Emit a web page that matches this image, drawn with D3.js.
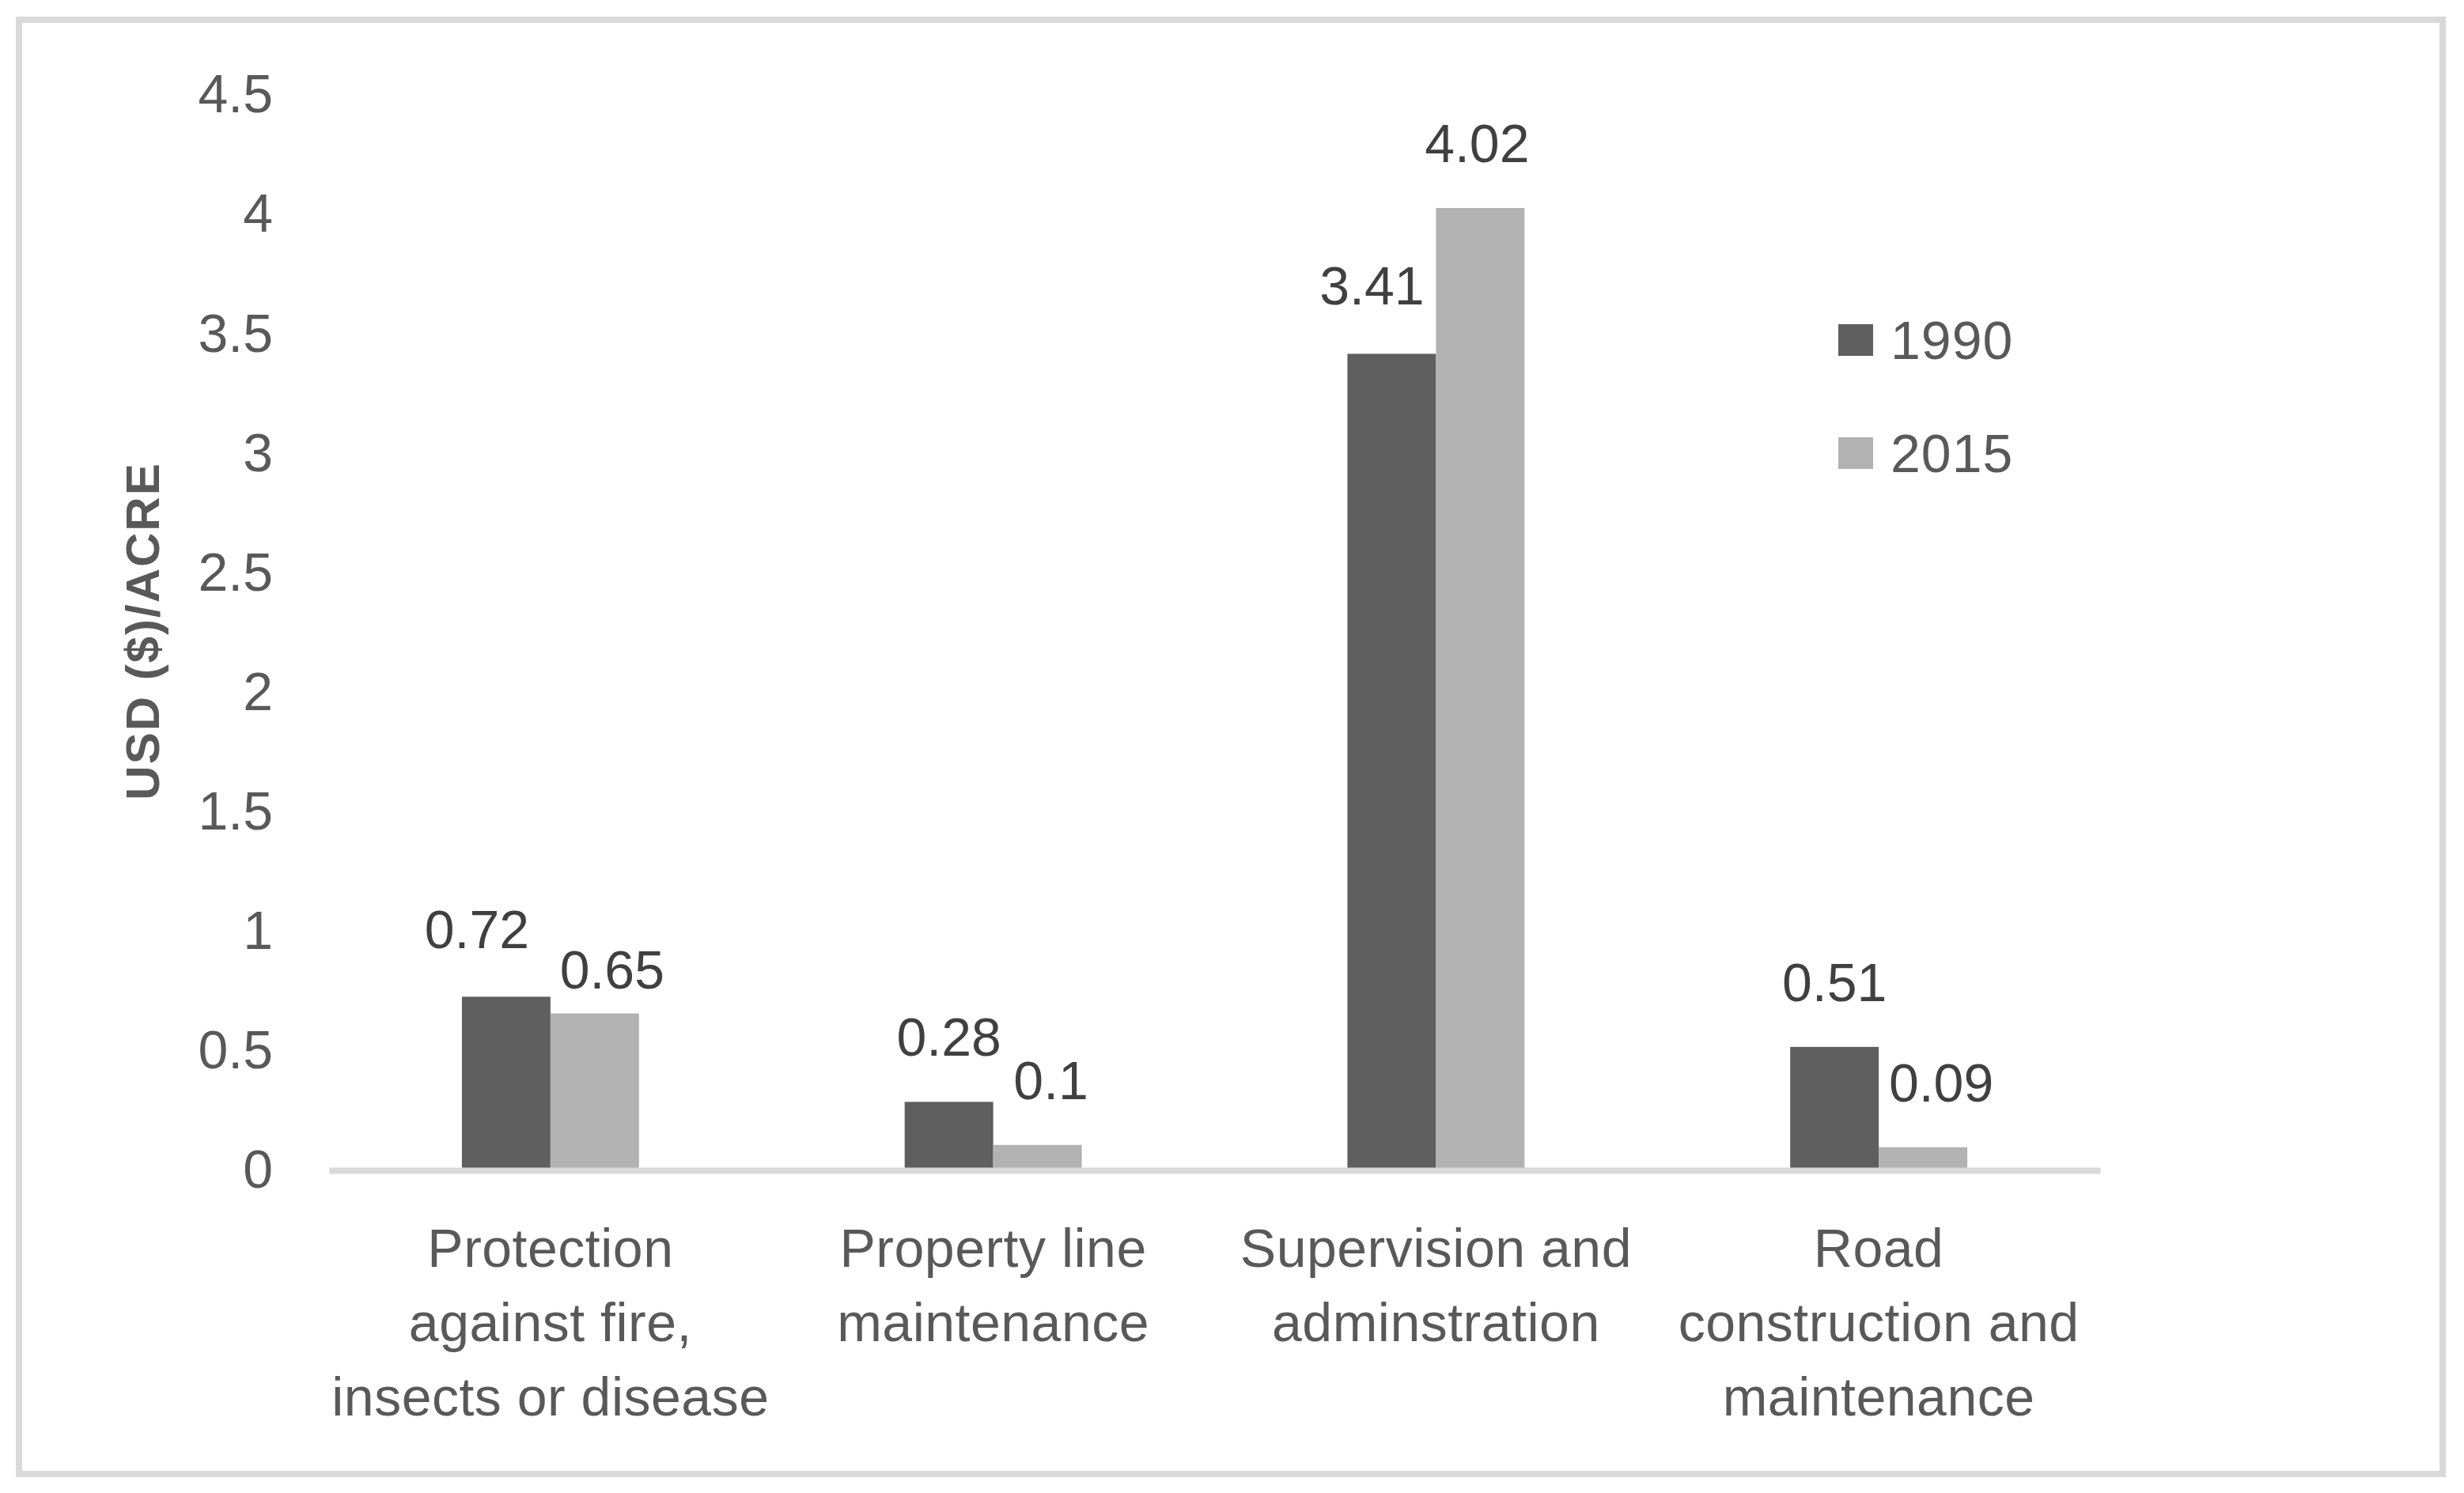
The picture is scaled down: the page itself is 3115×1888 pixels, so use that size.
<!DOCTYPE html>
<html>
<head>
<meta charset="utf-8">
<script src="https://cdn.jsdelivr.net/npm/d3@7"></script>
<style>
  body { margin: 0; background: #fff; }
  text { font-family: "Liberation Sans", Arial, sans-serif; }
</style>
</head>
<body>
<svg id="chart"></svg>
<script>
// data
const categories = ["Protection", "Property", "Supervision", "Road"];
const categoryLines = [
  ["Protection", "against fire,", "insects or disease"],
  ["Property line", "maintenance"],
  ["Supervision and", "adminstration"],
  ["Road", "construction and", "maintenance"]
];
const series = ["1990", "2015"];
const values1990 = [0.72, 0.28, 3.41, 0.51];
const values2015 = [0.65, 0.1, 4.02, 0.09];
const yTicks = [0, 0.5, 1, 1.5, 2, 2.5, 3, 3.5, 4, 4.5];
const yTitle = "USD ($)/ACRE";

// styling
const colors = ["#5f5f5f", "#b2b2b2"];
const width = 3115;
const height = 1888;
const fontSize = 68;
// hand placed label offsets in the original (per category, per series)
const labelNudge = [
  [[-37, -3], [22, 26]],
  [[0, 0], [17, 0]],
  [[-25, -4], [-4, 0]],
  [[0, 0], [23, 0]]
];

const svg = d3.select("#chart").attr("width", width).attr("height", height);

svg.append("rect")
  .attr("x", 24).attr("y", 25)
  .attr("width", 3064).attr("height", 1839)
  .attr("fill", "#fff")
  .attr("stroke", "#d9d9d9")
  .attr("stroke-width", 8);

const x0 = d3.scaleBand()
  .domain(categories)
  .range([416, 2655])
  .paddingInner(0.6)
  .paddingOuter(0.3);

const x1 = d3.scaleBand()
  .domain(series)
  .range([0, x0.bandwidth()]);

const y = d3.scaleLinear()
  .domain([0, 4.5])
  .range([1478, 118]);

const rows = categories.map(function (c, i) {
  return { cat: c, i: i, vals: [values1990[i], values2015[i]] };
});

// y axis (labels only)
const yAxis = svg.append("g")
  .attr("transform", "translate(345,0)")
  .call(d3.axisLeft(y).tickValues(yTicks).tickSize(0).tickPadding(0).tickFormat(d3.format("")));
yAxis.select(".domain").remove();
yAxis.selectAll("text")
  .attr("font-size", fontSize)
  .attr("font-family", "Liberation Sans, Arial, sans-serif")
  .attr("fill", "#595959")
  .attr("dy", "0.35em");

// y title
svg.append("text")
  .attr("transform", "translate(201,798) rotate(-90)")
  .attr("text-anchor", "middle")
  .attr("font-size", 60)
  .attr("font-weight", "bold")
  .attr("letter-spacing", 2)
  .attr("fill", "#595959")
  .text(yTitle);

// bars
const groups = svg.selectAll("g.group")
  .data(rows)
  .enter()
  .append("g")
  .attr("class", "group")
  .attr("transform", function (d) { return "translate(" + x0(d.cat) + ",0)"; });

groups.selectAll("rect")
  .data(function (d) {
    return d.vals.map(function (v, j) { return { s: series[j], v: v, j: j, i: d.i }; });
  })
  .enter()
  .append("rect")
  .attr("x", function (d) { return x1(d.s); })
  .attr("y", function (d) { return y(d.v); })
  .attr("width", x1.bandwidth())
  .attr("height", function (d) { return y(0) - y(d.v); })
  .attr("fill", function (d) { return colors[d.j]; });

groups.selectAll("text.val")
  .data(function (d) {
    return d.vals.map(function (v, j) { return { s: series[j], v: v, j: j, i: d.i }; });
  })
  .enter()
  .append("text")
  .attr("class", "val")
  .attr("text-anchor", "middle")
  .attr("x", function (d) { return x1(d.s) + x1.bandwidth() / 2 + labelNudge[d.i][d.j][0]; })
  .attr("y", function (d) { return y(d.v) - 58 + labelNudge[d.i][d.j][1]; })
  .attr("font-size", fontSize)
  .attr("fill", "#404040")
  .text(function (d) { return d.v; });

// x axis line
const xAxis = svg.append("g")
  .attr("transform", "translate(0,1480)")
  .call(d3.axisBottom(x0).tickSize(0).tickSizeOuter(0).tickFormat(""));
xAxis.select(".domain")
  .attr("stroke", "#d9d9d9")
  .attr("stroke-width", 8);

// category labels
const catText = svg.selectAll("text.cat")
  .data(rows)
  .enter()
  .append("text")
  .attr("class", "cat")
  .attr("text-anchor", "middle")
  .attr("font-size", fontSize)
  .attr("letter-spacing", 0.5)
  .attr("fill", "#595959");

catText.selectAll("tspan")
  .data(function (d) { return categoryLines[d.i].map(function (t, k) { return { t: t, k: k, cat: d.cat }; }); })
  .enter()
  .append("tspan")
  .attr("x", function (d) { return x0(d.cat) + x0.bandwidth() / 2; })
  .attr("y", function (d) { return 1602 + d.k * 94; })
  .text(function (d) { return d.t; });

// legend
const legend = svg.selectAll("g.legend")
  .data(series)
  .enter()
  .append("g")
  .attr("class", "legend")
  .attr("transform", function (d, i) { return "translate(2324," + (410 + i * 143) + ")"; });

legend.append("rect")
  .attr("width", 44)
  .attr("height", 40)
  .attr("fill", function (d, i) { return colors[i]; });

legend.append("text")
  .attr("x", 66)
  .attr("y", 44)
  .attr("font-size", fontSize)
  .attr("letter-spacing", 1)
  .attr("fill", "#595959")
  .text(function (d) { return d; });
</script>
</body>
</html>
